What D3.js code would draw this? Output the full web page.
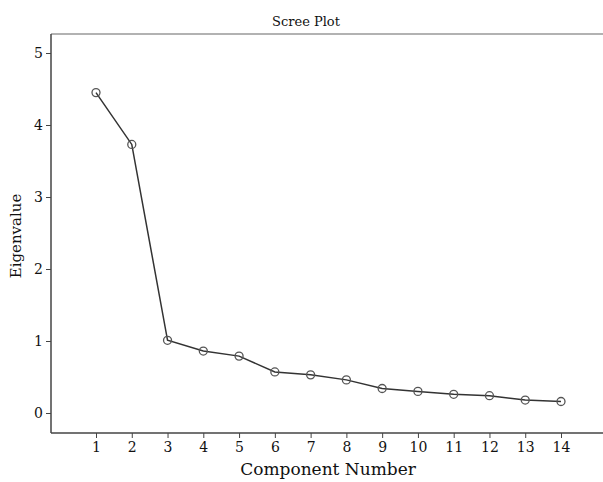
<!DOCTYPE html>
<html><head><meta charset="utf-8">
<script src="https://cdn.jsdelivr.net/npm/d3@7"></script>
<style>body{margin:0;background:#fff}svg{display:block}text{font-family:"DejaVu Serif",serif;fill:#111}</style>
</head><body><svg id="c" width="603" height="482"></svg>
<script>
const components = [1,2,3,4,5,6,7,8,9,10,11,12,13,14];
const eigenvalues = [4.45,3.73,1.01,0.86,0.79,0.57,0.53,0.46,0.34,0.30,0.26,0.24,0.18,0.16];
const yTicks = [0,1,2,3,4,5];

const svg = d3.select("#c");
const L = 51, R = 603, T = 34, B = 433;
const x = d3.scaleLinear().domain([1,14]).range([96,561]);
const y = d3.scaleLinear().domain([0,5]).range([413,53]);

svg.append("line").attr("x1",L).attr("x2",R).attr("y1",T).attr("y2",T).attr("stroke","#999").attr("stroke-width",1.5);

const gx = svg.append("g").attr("transform",`translate(0,${B})`)
  .call(d3.axisBottom(x).tickValues(components).tickSize(5).tickPadding(4).tickFormat(d3.format("d")));
gx.select(".domain").remove();
gx.append("line").attr("x1",L).attr("x2",R).attr("stroke","#444").attr("stroke-width",1.5);
gx.selectAll(".tick line").attr("stroke","#444");
gx.selectAll("text").attr("font-size",14).attr("font-family","DejaVu Serif").attr("fill","#111");

const gy = svg.append("g").attr("transform",`translate(${L},0)`)
  .call(d3.axisLeft(y).tickValues(yTicks).tickSize(5).tickPadding(3).tickFormat(d3.format("d")));
gy.select(".domain").remove();
gy.append("line").attr("y1",T).attr("y2",B).attr("stroke","#444").attr("stroke-width",1.5);
gy.selectAll(".tick line").attr("stroke","#444");
gy.selectAll("text").attr("font-size",14).attr("font-family","DejaVu Serif").attr("fill","#111");

const data = components.map((c,i)=>({c, v: eigenvalues[i]}));
svg.append("path").datum(data)
  .attr("d", d3.line().x(d=>x(d.c)).y(d=>y(d.v)))
  .attr("fill","none").attr("stroke","#333").attr("stroke-width",1.5);
svg.selectAll("circle.pt").data(data).join("circle").attr("class","pt")
  .attr("cx",d=>x(d.c)).attr("cy",d=>y(d.v)).attr("r",4)
  .attr("fill","none").attr("stroke","#555").attr("stroke-width",1.3);

svg.append("text").attr("x",306).attr("y",26).attr("text-anchor","middle").attr("font-size",13).text("Scree Plot");
svg.append("text").attr("x",328).attr("y",475).attr("text-anchor","middle").attr("font-size",17).text("Component Number");
svg.append("text").attr("transform","translate(21,236) rotate(-90)").attr("text-anchor","middle").attr("font-size",15).text("Eigenvalue");
</script></body></html>
